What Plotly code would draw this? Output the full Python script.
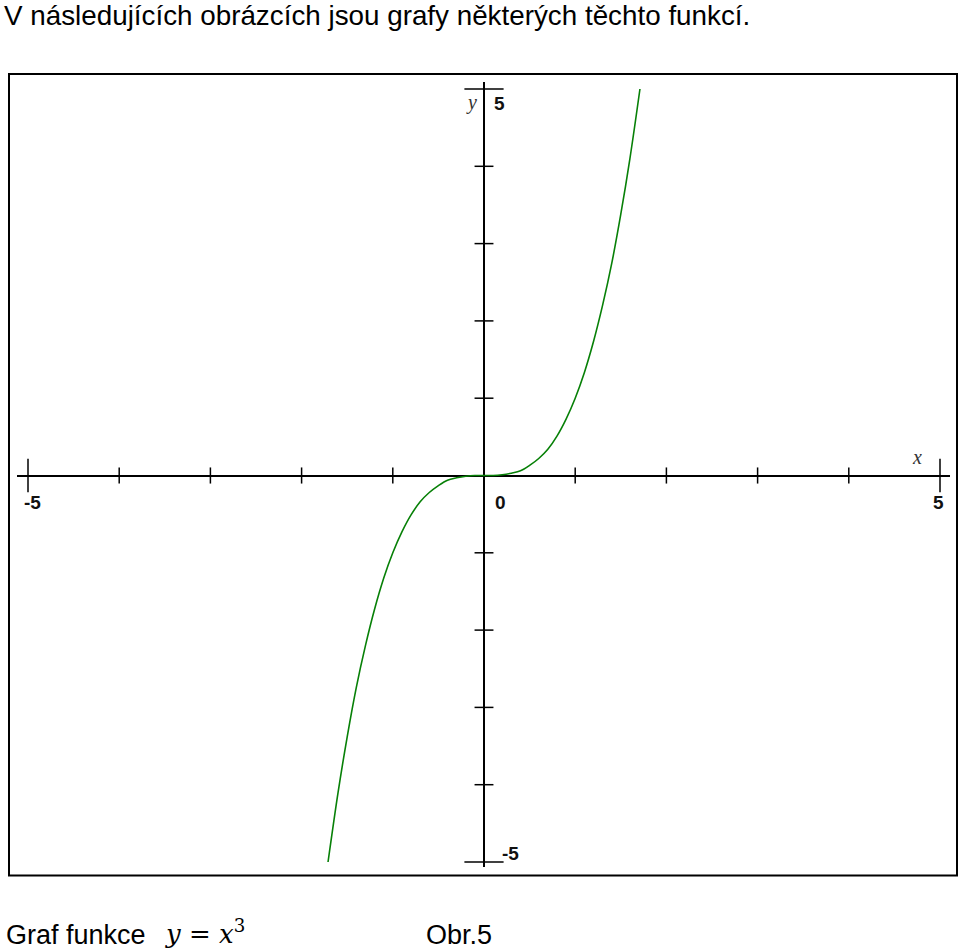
import plotly.graph_objects as go

# ---- data ----
curve_x = [-1.71, -1.6, -1.5, -1.4, -1.3, -1.2, -1.1, -1.0, -0.9, -0.8, -0.7, -0.6, -0.5, -0.4,
           -0.3, -0.2, -0.1, 0.0, 0.1, 0.2, 0.3, 0.4, 0.5, 0.6, 0.7, 0.8, 0.9, 1.0, 1.1, 1.2,
           1.3, 1.4, 1.5, 1.6, 1.71]
curve_y = [-5.0, -4.1, -3.38, -2.74, -2.2, -1.73, -1.33, -1.0, -0.73, -0.51, -0.34, -0.22, -0.13,
           -0.06, -0.03, -0.01, 0.0, 0.0, 0.0, 0.01, 0.03, 0.06, 0.13, 0.22, 0.34, 0.51, 0.73,
           1.0, 1.33, 1.73, 2.2, 2.74, 3.38, 4.1, 5.0]
minor_ticks = [-4, -3, -2, -1, 1, 2, 3, 4]
major_ticks = [-5, 5]
x_tick_labels = {-5: "-5", 0: "0", 5: "5"}
y_tick_labels = {5: "5", -5: "-5"}
title_text = "V následujících obrázcích jsou grafy některých těchto funkcí."
caption_left = "Graf funkce"
caption_math = "<i>y</i> = <i>x</i><sup>3</sup>"
caption_right = "Obr.5"

W, H = 960, 950
# pixel geometry
X0PX, XUNIT = 484.0, 91.2      # x=0 pixel, px per unit
Y0PX, YUNIT = 475.5, 77.3      # y=0 pixel, px per unit
XL, XR = 17, 950               # horizontal axis extent
YT, YB = 82, 867               # vertical axis extent


def px2x(p):
    return (p - X0PX) / XUNIT


def px2y(p):
    return (Y0PX - p) / YUNIT


fig = go.Figure()

# curve
fig.add_trace(go.Scatter(x=curve_x, y=curve_y, mode="lines",
                         line=dict(color="#078007", width=1.6, shape="spline"),
                         hoverinfo="skip", showlegend=False))

# ticks on x axis
fig.add_trace(go.Scatter(x=minor_ticks, y=[0] * len(minor_ticks), mode="markers",
                         marker=dict(symbol="line-ns", size=11.5, line=dict(color="black", width=1.5)),
                         cliponaxis=False, hoverinfo="skip", showlegend=False))
fig.add_trace(go.Scatter(x=major_ticks, y=[0] * len(major_ticks), mode="markers",
                         marker=dict(symbol="line-ns", size=24, line=dict(color="black", width=1.5)),
                         cliponaxis=False, hoverinfo="skip", showlegend=False))
# ticks on y axis
fig.add_trace(go.Scatter(x=[0] * len(minor_ticks), y=minor_ticks, mode="markers",
                         marker=dict(symbol="line-ew", size=13.5, line=dict(color="black", width=1.5)),
                         cliponaxis=False, hoverinfo="skip", showlegend=False))
fig.add_trace(go.Scatter(x=[0] * len(major_ticks), y=major_ticks, mode="markers",
                         marker=dict(symbol="line-ew", size=28, line=dict(color="black", width=1.5)),
                         cliponaxis=False, hoverinfo="skip", showlegend=False))

annotations = []
lab_font = dict(family="Liberation Sans, Arial", size=19, color="#111")
xshifts = {-5: 4, 0: 16, 5: -2}
for v, t in x_tick_labels.items():
    annotations.append(dict(x=v, y=0, xref="x", yref="y", text="<b>" + t + "</b>", showarrow=False,
                            xshift=xshifts[v], yshift=-27, font=lab_font))
yshift_map = {5: (15, -14), -5: (26, 9)}
for v, t in y_tick_labels.items():
    xs, ys = yshift_map[v]
    annotations.append(dict(x=0, y=v, xref="x", yref="y", text="<b>" + t + "</b>", showarrow=False,
                            xshift=xs, yshift=ys, font=lab_font))
ax_font = dict(family="Liberation Serif", size=20, color="#333")
annotations.append(dict(x=5, y=0, xref="x", yref="y", text="<i>x</i>", showarrow=False,
                        xshift=-23, yshift=19, font=ax_font))
annotations.append(dict(x=0, y=5, xref="x", yref="y", text="<i>y</i>", showarrow=False,
                        xshift=-13, yshift=-13, font=ax_font))

# texts
annotations.append(dict(x=2 / W, y=1 - 16 / H, xref="paper", yref="paper", xanchor="left", yanchor="middle",
                        text=title_text, showarrow=False,
                        font=dict(family="Liberation Sans, Arial", size=27.8, color="black")))
annotations.append(dict(x=4 / W, y=1 - 935 / H, xref="paper", yref="paper", xanchor="left", yanchor="middle",
                        text=caption_left, showarrow=False,
                        font=dict(family="Liberation Sans, Arial", size=27, color="black")))
annotations.append(dict(x=163 / W, y=1 - 932 / H, xref="paper", yref="paper", xanchor="left", yanchor="middle",
                        text=caption_math, showarrow=False,
                        font=dict(family="DejaVu Serif", size=26, color="black")))
annotations.append(dict(x=424 / W, y=1 - 935 / H, xref="paper", yref="paper", xanchor="left", yanchor="middle",
                        text=caption_right, showarrow=False,
                        font=dict(family="Liberation Sans, Arial", size=27, color="black")))

shapes = [dict(type="rect", xref="paper", yref="paper",
               x0=9 / W, x1=957 / W, y0=1 - 875.5 / H, y1=1 - 74 / H,
               line=dict(color="black", width=2), layer="below")]

fig.update_layout(
    width=W, height=H, margin=dict(l=0, r=0, t=0, b=0),
    paper_bgcolor="white", plot_bgcolor="rgba(0,0,0,0)",
    xaxis=dict(domain=[XL / W, XR / W], range=[px2x(XL), px2x(XR)], showgrid=False,
               showticklabels=False, ticks="", showline=False, zeroline=True,
               zerolinecolor="black", zerolinewidth=1.5, fixedrange=True),
    yaxis=dict(domain=[1 - YB / H, 1 - YT / H], range=[px2y(YB), px2y(YT)], showgrid=False,
               showticklabels=False, ticks="", showline=False, zeroline=True,
               zerolinecolor="black", zerolinewidth=1.5, fixedrange=True),
    annotations=annotations, shapes=shapes, showlegend=False,
)

fig.write_html("out.html", config={"displayModeBar": False},
               post_script="document.body.style.margin='0';document.body.style.overflow='hidden';")
